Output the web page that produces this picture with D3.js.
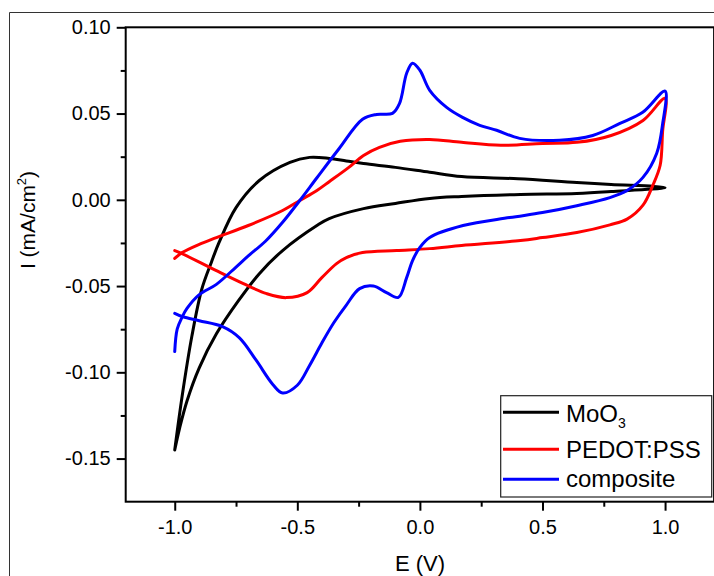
<!DOCTYPE html>
<html>
<head>
<meta charset="utf-8">
<script src="https://cdn.jsdelivr.net/npm/d3@7"></script>
<style>
body { margin: 0; background: #fff; }
svg { display: block; font-family: "Liberation Sans", Arial, sans-serif; }
</style>
</head>
<body>
<div id="cv_figure"></div>
<script>
// series names (legend order)
const seriesNames = ["MoO3", "PEDOT:PSS", "composite"]

// [E (V), I (mA/cm2)], forward sweep then reverse sweep
const moo3Fwd = [[-1.00,-0.145],[-0.97,-0.114],[-0.93,-0.079],[-0.89,-0.052],[-0.85,-0.036],[-0.82,-0.025],[-0.75,-0.0045],[-0.655,0.0112],[-0.53,0.0217],[-0.45,0.0246],[-0.37,0.024],[-0.30,0.0225],[-0.23,0.021],[-0.10,0.0188],[0.04,0.016],[0.17,0.0135],[0.40,0.0122],[0.64,0.010],[0.78,0.0089],[1.00,0.0071]]
const moo3Rev = [[1.00,0.0071],[0.78,0.0048],[0.64,0.0037],[0.41,0.0031],[0.17,0.0019],[0.04,0.0008],[-0.10,-0.0021],[-0.23,-0.0051],[-0.37,-0.0109],[-0.42,-0.0149],[-0.56,-0.0294],[-0.655,-0.0428],[-0.74,-0.0585],[-0.83,-0.0777],[-0.90,-0.0974],[-0.95,-0.1166],[-0.98,-0.1323],[-1.00,-0.145]]

const pedotFwd = [[-1.00,-0.034],[-0.97,-0.0306],[-0.90,-0.0258],[-0.83,-0.0219],[-0.70,-0.0149],[-0.56,-0.0062],[-0.49,-0.0004],[-0.42,0.0054],[-0.37,0.0105],[-0.29,0.0188],[-0.23,0.0257],[-0.165,0.0304],[-0.08,0.0339],[0.04,0.035],[0.17,0.0333],[0.33,0.0316],[0.50,0.0327],[0.64,0.0333],[0.78,0.0373],[0.91,0.046],[1.00,0.0588]]
const pedotRev = [[1.00,0.0588],[0.99,0.0397],[0.98,0.020],[0.95,0.0084],[0.91,-0.0031],[0.845,-0.0112],[0.775,-0.0145],[0.64,-0.019],[0.50,-0.0219],[0.41,-0.0236],[0.17,-0.0265],[0.04,-0.0283],[-0.095,-0.0294],[-0.234,-0.0306],[-0.30,-0.0335],[-0.34,-0.037],[-0.40,-0.0451],[-0.46,-0.0538],[-0.545,-0.0567],[-0.625,-0.0544],[-0.72,-0.0486],[-0.83,-0.0411],[-0.97,-0.0312],[-1.00,-0.0294]]

const compFwd = [[-1.00,-0.088],[-0.99,-0.075],[-0.97,-0.068],[-0.95,-0.063],[-0.90,-0.055],[-0.83,-0.049],[-0.75,-0.039],[-0.70,-0.0325],[-0.63,-0.024],[-0.56,-0.013],[-0.49,-0.0004],[-0.42,0.0128],[-0.33,0.0296],[-0.234,0.0467],[-0.177,0.0495],[-0.112,0.0501],[-0.083,0.0559],[-0.054,0.0734],[-0.03,0.0792],[0.0,0.0751],[0.04,0.0635],[0.109,0.0536],[0.174,0.0478],[0.244,0.0432],[0.313,0.0403],[0.407,0.0356],[0.57,0.0345],[0.705,0.0373],[0.816,0.0443],[0.909,0.0507],[1.00,0.063]]
const compRev = [[1.00,0.063],[0.99,0.044],[0.966,0.027],[0.91,0.013],[0.845,0.0054],[0.775,0.0013],[0.64,-0.0034],[0.50,-0.0074],[0.366,-0.0103],[0.176,-0.0149],[0.04,-0.0218],[0.0,-0.0276],[-0.03,-0.0352],[-0.054,-0.0451],[-0.088,-0.0566],[-0.136,-0.0538],[-0.19,-0.050],[-0.246,-0.0515],[-0.30,-0.061],[-0.35,-0.071],[-0.40,-0.083],[-0.45,-0.096],[-0.50,-0.1075],[-0.56,-0.112],[-0.60,-0.107],[-0.668,-0.093],[-0.736,-0.080],[-0.805,-0.0735],[-0.90,-0.0701],[-0.967,-0.0678],[-1.00,-0.0658]]

// axis ticks
const xTicks = [-1.0, -0.5, 0.0, 0.5, 1.0]
const xMinor = [-0.75, -0.25, 0.25, 0.75]
const yTicks = [0.10, 0.05, 0.00, -0.05, -0.10, -0.15]
const yMinor = [0.075, 0.025, -0.025, -0.075, -0.125]

const line_colors = ["#000000", "#ff0000", "#0000ff"]
const curve_stroke = 3

const W = 714, H = 576

const svg = d3.select("#cv_figure")
	.append("svg")
	.attr("width", W)
	.attr("height", H)

// outer figure border
svg.append("path")
	.attr("d", "M9.5," + H + "V12.5H" + W)
	.attr("stroke", "#333")
	.attr("stroke-width", 1)
	.attr("fill", "none")

const x = d3.scaleLinear().domain([-1.2, 1.2]).range([125.7, 714.1])
const y = d3.scaleLinear().domain([-0.175, 0.10]).range([501.7, 27.3])

const fmt1 = d => d.toFixed(1)
const fmt2 = d => d.toFixed(2)

// curves
const line = d3.line()
	.x(d => x(d[0]))
	.y(d => y(d[1]))
	.curve(d3.curveCatmullRom.alpha(0.5))

const loops = [moo3Fwd.concat(moo3Rev.slice(1)), pedotFwd.concat(pedotRev.slice(1)), compFwd.concat(compRev.slice(1))]

svg.append("g")
	.selectAll("path")
	.data(loops)
	.join("path")
	.attr("d", line)
	.attr("fill", "none")
	.attr("stroke", (d, i) => line_colors[i])
	.attr("stroke-width", curve_stroke)
	.attr("stroke-linejoin", "round")
	.attr("stroke-linecap", "round")

// frame
svg.append("rect")
	.attr("x", x(-1.2))
	.attr("y", y(0.10))
	.attr("width", x(1.2) - x(-1.2))
	.attr("height", y(-0.175) - y(0.10))
	.attr("fill", "none")
	.attr("stroke", "#000")
	.attr("stroke-width", 2)

// axes
svg.append("g")
	.attr("transform", "translate(0," + y(-0.175) + ")")
	.call(d3.axisBottom(x).tickValues(xTicks).tickFormat(fmt1).tickSize(9).tickPadding(9).tickSizeOuter(0))
svg.append("g")
	.attr("transform", "translate(0," + y(-0.175) + ")")
	.call(d3.axisBottom(x).tickValues(xMinor).tickFormat("").tickSize(5).tickSizeOuter(0))

svg.append("g")
	.attr("transform", "translate(" + x(-1.2) + ",0)")
	.call(d3.axisLeft(y).tickValues(yTicks).tickFormat(fmt2).tickSize(9).tickPadding(6).tickSizeOuter(0))
svg.append("g")
	.attr("transform", "translate(" + x(-1.2) + ",0)")
	.call(d3.axisLeft(y).tickValues(yMinor).tickFormat("").tickSize(5).tickSizeOuter(0))

svg.selectAll(".domain").remove()
svg.selectAll(".tick line").attr("stroke", "#000").attr("stroke-width", 2)
svg.selectAll(".tick text")
	.attr("fill", "#000")
	.attr("font-size", "20px")
	.attr("font-family", "Liberation Sans, Arial, sans-serif")

// axis titles
svg.append("text")
	.attr("x", 420)
	.attr("y", 571)
	.attr("text-anchor", "middle")
	.attr("font-size", "22px")
	.text("E (V)")

const yTitle = svg.append("text")
	.attr("transform", "translate(35,220) rotate(-90)")
	.attr("text-anchor", "middle")
	.attr("font-size", "21px")
yTitle.append("tspan").text("I (mA/cm")
yTitle.append("tspan").attr("font-size", "13px").attr("dy", -9).text("2")
yTitle.append("tspan").attr("dy", 9).text(")")

// legend
const legend = svg.append("g")
legend.append("rect")
	.attr("x", 500.7)
	.attr("y", 395.7)
	.attr("width", 211)
	.attr("height", 101.3)
	.attr("fill", "#fff")
	.attr("stroke", "#222")
	.attr("stroke-width", 1.2)

const legend_line_y = [412.3, 449.3, 479.3]
const legend_text_y = [421.7, 458.3, 487.3]

seriesNames.forEach(function(name, i){
	legend.append("line")
		.attr("x1", 503)
		.attr("x2", 559)
		.attr("y1", legend_line_y[i])
		.attr("y2", legend_line_y[i])
		.attr("stroke", line_colors[i])
		.attr("stroke-width", curve_stroke)
	const t = legend.append("text")
		.attr("x", 566)
		.attr("y", legend_text_y[i])
		.attr("font-size", "24px")
	if (name == "MoO3") {
		t.append("tspan").text("MoO")
		t.append("tspan").attr("font-size", "14px").attr("dy", 6).text("3")
	} else {
		t.text(name)
	}
})
</script>
</body>
</html>
